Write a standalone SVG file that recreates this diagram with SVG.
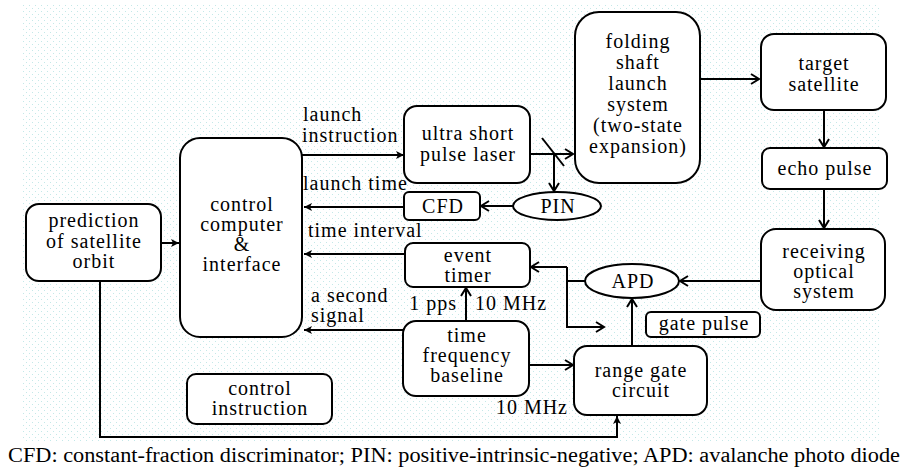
<svg xmlns="http://www.w3.org/2000/svg" width="906" height="469" viewBox="0 0 906 469">
<defs>
<pattern id="dots" x="23" y="5" width="6" height="6" patternUnits="userSpaceOnUse">
<rect x="0" y="0" width="1" height="1" fill="#c4e8e8"/>
<rect x="3" y="3" width="1" height="1" fill="#c4e8e8"/>
</pattern>
<marker id="open" markerWidth="12" markerHeight="12" refX="9" refY="6" orient="auto" markerUnits="userSpaceOnUse">
<path d="M1,1 L9,6 L1,11" fill="none" stroke="#000" stroke-width="2"/>
</marker>
<marker id="fill" markerWidth="10" markerHeight="10" refX="8" refY="5" orient="auto" markerUnits="userSpaceOnUse">
<path d="M0,1 L8,5 L0,9 L2,5 Z" fill="#000"/>
</marker>
</defs>
<style>
.b{fill:#fff;stroke:#000;stroke-width:2}
.t{font-size:20px;letter-spacing:1px;fill:#000}
.m{text-anchor:middle}
.c{fill:none;stroke:#000;stroke-width:2}
.o{marker-end:url(#open)}
.f{marker-end:url(#fill)}
</style>
<rect x="23" y="5" width="858" height="436" fill="url(#dots)"/>

<g id="connectors">
<path class="c f" d="M302,155 H404"/>
<path class="c f" d="M404,207 H304"/>
<path class="c f" d="M405,254 H304"/>
<path class="c f" d="M403,330 H304"/>
<path class="c f" d="M161,243 H179"/>
<path class="c o" d="M530,154 H573"/>
<path class="c" d="M542,138 L564,166"/>
<path class="c o" d="M554,154 V191"/>
<path class="c o" d="M513,206 H481"/>
<path class="c o" d="M700,79 H759"/>
<path class="c o" d="M824,110 V147"/>
<path class="c o" d="M824,189 V228"/>
<path class="c o" d="M761,281 H680"/>
<path class="c" d="M585,281 H567"/>
<path class="c o" d="M567,267 H531"/>
<path class="c o" d="M567,267 V327 H604"/>
<path class="c o" d="M466,321 V288"/>
<path class="c o" d="M529,365 H573"/>
<path class="c o" d="M632,346 V299"/>
<path class="c f" d="M100,281 V437 H617 V416"/>
</g>

<g font-family="Liberation Serif, DejaVu Serif, Times New Roman, serif">
<g id="prediction"><rect class="b" x="26" y="204" width="135" height="77" rx="13"/>
<text class="t m" x="94" y="227">prediction</text><text class="t m" x="94" y="248">of satellite</text><text class="t m" x="94" y="268">orbit</text></g>

<g id="control"><rect class="b" x="180" y="138" width="122" height="199" rx="20"/>
<text class="t m" x="242" y="211">control</text><text class="t m" x="242" y="231">computer</text><text class="t m" x="242" y="251">&amp;</text><text class="t m" x="242" y="271">interface</text></g>

<g id="labels">
<text class="t" x="303" y="121">launch</text>
<text class="t" x="302" y="142">instruction</text>
<text class="t" x="303" y="190">launch time</text>
<text class="t" x="308" y="237">time interval</text>
<text class="t" x="311" y="302">a second</text>
<text class="t" x="311" y="322">signal</text>
<text class="t" x="457" y="310" text-anchor="end">1 pps</text>
<text class="t" x="475" y="310">10 MHz</text>
<text class="t" x="568" y="414" text-anchor="end">10 MHz</text>
</g>

<g id="laser"><rect class="b" x="404" y="106" width="126" height="77" rx="13"/>
<text class="t m" x="468" y="140">ultra short</text><text class="t m" x="468" y="161">pulse laser</text></g>

<g id="cfd"><rect class="b" x="404" y="192" width="76" height="28" rx="5"/>
<text class="t m" x="443" y="213">CFD</text></g>

<g id="pin"><ellipse class="b" cx="557" cy="206" rx="44" ry="14"/>
<text class="t m" x="558" y="213">PIN</text></g>

<g id="folding"><rect class="b" x="575" y="12" width="125" height="171" rx="24"/>
<text class="t m" x="638" y="48">folding</text><text class="t m" x="638" y="69">shaft</text><text class="t m" x="638" y="90">launch</text><text class="t m" x="638" y="111">system</text><text class="t m" x="638" y="132">(two-state</text><text class="t m" x="638" y="153">expansion)</text></g>

<g id="target"><rect class="b" x="761" y="34" width="125" height="76" rx="13"/>
<text class="t m" x="824" y="70">target</text><text class="t m" x="824" y="91">satellite</text></g>

<g id="echo"><rect class="b" x="762" y="148" width="125" height="41" rx="8"/>
<text class="t m" x="825" y="175">echo pulse</text></g>

<g id="receiving"><rect class="b" x="761" y="229" width="124" height="81" rx="15"/>
<text class="t m" x="824" y="258">receiving</text><text class="t m" x="824" y="278">optical</text><text class="t m" x="824" y="298">system</text></g>

<g id="apd"><ellipse class="b" cx="632" cy="281" rx="47" ry="17"/>
<text class="t m" x="633" y="288">APD</text></g>

<g id="timer"><rect class="b" x="405" y="243" width="125" height="44" rx="8"/>
<text class="t m" x="468" y="262">event</text><text class="t m" x="468" y="282">timer</text></g>

<g id="baseline"><rect class="b" x="403" y="321" width="126" height="75" rx="13"/>
<text class="t m" x="467" y="342">time</text><text class="t m" x="467" y="362">frequency</text><text class="t m" x="467" y="382">baseline</text></g>

<g id="gatepulse"><rect class="b" x="646" y="312" width="114" height="25" rx="5"/>
<text class="t m" x="704" y="330">gate pulse</text></g>

<g id="rangegate"><rect class="b" x="574" y="346" width="133" height="69" rx="13"/>
<text class="t m" x="641" y="377">range gate</text><text class="t m" x="641" y="397">circuit</text></g>

<g id="controlinstr"><rect class="b" x="187" y="374" width="145" height="50" rx="9"/>
<text class="t m" x="260" y="395">control</text><text class="t m" x="260" y="415">instruction</text></g>

<text class="t" x="8" y="462" style="letter-spacing:0" textLength="892" lengthAdjust="spacingAndGlyphs">CFD: constant-fraction discriminator; PIN: positive-intrinsic-negative; APD: avalanche photo diode</text>
</g>
</svg>
